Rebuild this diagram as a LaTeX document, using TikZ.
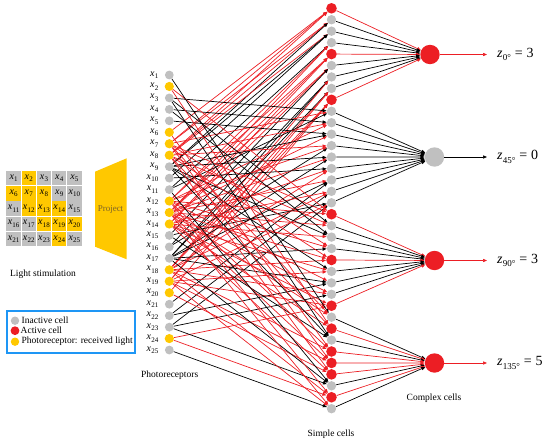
\documentclass[tikz,border=0pt]{standalone}
\usepackage{fontspec}
\setmainfont{Liberation Serif}
\usetikzlibrary{arrows.meta}
\definecolor{cred}{RGB}{236,30,36}
\definecolor{cgray}{RGB}{192,192,192}
\definecolor{cyel}{RGB}{255,200,0}
\definecolor{cblue}{RGB}{30,150,245}
\definecolor{ctext}{RGB}{125,100,40}
\newcommand{\xl}[1]{\textit{x}\kern0.2pt\raisebox{-0.55ex}{\fontsize{7}{7}\selectfont #1}}
\newcommand{\zl}[2]{\textit{z}\kern0.3pt\raisebox{-0.55ex}{\fontsize{9}{9}\selectfont #1°}\;=\;#2}
\tikzset{
  blk/.style={black,line width=0.7pt,-{Triangle[length=4pt,width=3.2pt]}},
  rd/.style={cred,line width=0.7pt,-{Triangle[length=4pt,width=3.2pt]}},
  q1/.style=blk, q2/.style=rd, q3/.style=blk, q4/.style=blk, q5/.style=blk,
  q6/.style=rd, q7/.style=rd, q8/.style=rd, q9/.style=blk, q10/.style=blk,
  q11/.style=blk, q12/.style=rd, q13/.style=rd, q14/.style=rd, q15/.style=blk,
  q16/.style=blk, q17/.style=blk, q18/.style=rd, q19/.style=rd, q20/.style=rd,
  q21/.style=blk, q22/.style=blk, q23/.style=blk, q24/.style=rd, q25/.style=blk,
  prg/.style={circle,fill=cgray,inner sep=0,minimum size=8.8pt},
  pry/.style={circle,fill=cyel,inner sep=0,minimum size=9.2pt},
  sina/.style={circle,fill=cgray,inner sep=0,minimum size=9.4pt},
  sact/.style={circle,fill=cred,inner sep=0,minimum size=10.6pt},
  sinaL/.style=blk, sactL/.style=rd,
  cina/.style={circle,fill=cgray,inner sep=0,minimum size=19.4pt},
  cact/.style={circle,fill=cred,inner sep=0,minimum size=19.4pt},
  cell/.style={rectangle,inner sep=0,minimum size=14.4pt,font=\fontsize{10}{10}\selectfont},
  lbl/.style={font=\fontsize{9.5}{11}\selectfont,inner sep=0},
  zlab/.style={font=\fontsize{14}{14}\selectfont,inner sep=0,anchor=west},
}
\begin{document}
\begin{tikzpicture}[x=1pt,y=-1pt]
\useasboundingbox (0,0) rectangle (550,442);
% light stimulation grid
\foreach \i/\f in {1/cgray,2/cyel,3/cgray,4/cgray,5/cgray,6/cyel,7/cyel,8/cyel,9/cgray,10/cgray,11/cgray,12/cyel,13/cyel,14/cyel,15/cgray,16/cgray,17/cgray,18/cyel,19/cyel,20/cyel,21/cgray,22/cgray,23/cgray,24/cyel,25/cgray}{
  \pgfmathtruncatemacro\row{floor((\i-1)/5)}
  \pgfmathtruncatemacro\col{mod(\i-1,5)}
  \node[cell,fill=\f] (g\i) at ({13.6+15.2*\col},{178.2+15.2*\row}) {\xl{\i}};
}
\node[lbl] (light) at (43,274) {Light stimulation};
% project
\fill[cyel] (95,171.7) -- (126.7,158.3) -- (126.7,259.3) -- (95,246.7) -- cycle;
\node[lbl,text=ctext,font=\fontsize{9}{10}\selectfont] (proj) at (110.5,209.3) {Project};
% photoreceptors
\foreach \i/\st in {1/prg,2/pry,3/prg,4/prg,5/prg,6/pry,7/pry,8/pry,9/prg,10/prg,11/prg,12/pry,13/pry,14/pry,15/prg,16/prg,17/prg,18/pry,19/pry,20/pry,21/prg,22/prg,23/prg,24/pry,25/prg}{
  \node[\st] (p\i) at (169.3,{75+11.46*(\i-1)}) {};
  \node[anchor=east,inner sep=0,font=\fontsize{10}{10}\selectfont] (xlab\i) at (158.5,{75+11.46*(\i-1)}) {\xl{\i}};
}
\node[lbl] (photo) at (169.7,375.7) {Photoreceptors};
% complex cells
\node[cact] (c0) at (430,54.5) {};
\node[cina] (c1) at (434.5,157) {};
\node[cact] (c2) at (434.5,260.5) {};
\node[cact] (c3) at (434.5,363) {};
% simple cells
\foreach \k/\st in {0/sact,1/sina,2/sina,3/sina,4/sact,5/sina,6/sina,7/sina,8/sact,9/sina,10/sina,11/sina,12/sina,13/sina,14/sina,15/sina,16/sina,17/sina,18/sact,19/sina,20/sina,21/sina,22/sact,23/sina,24/sina,25/sina,26/sact,27/sina,28/sact,29/sina,30/sact,31/sact,32/sact,33/sina,34/sact,35/sina}{
  \node[\st] (s\k) at (331.5,{8.3+11.44*\k}) {};
  \pgfmathtruncatemacro\g{floor(\k/9)}
  \draw[\st L] (s\k) -- (c\g);
}
\node[lbl] (simple) at (331,434) {Simple cells};
\node[lbl] (complex) at (434,398) {Complex cells};
% photoreceptor -> simple connections
\foreach \g/\da/\db in {0/-1/1,1/4/-4,2/-5/5,3/-6/6}{
  \foreach \r in {2,3,4}{
    \foreach \c in {2,3,4}{
      \pgfmathtruncatemacro\k{9*\g+3*(\r-2)+\c-2}
      \pgfmathtruncatemacro\p{5*(\r-1)+\c}
      \pgfmathtruncatemacro\qa{\p+\da}
      \pgfmathtruncatemacro\qb{\p+\db}
      \draw[q\qa] (p\qa) -- (s\k);
      \draw[q\p] (p\p) -- (s\k);
      \draw[q\qb] (p\qb) -- (s\k);
    }
  }
}
% outputs
\coordinate (o0) at (487,54.5);
\coordinate (o1) at (487,157);
\coordinate (o2) at (487,260.5);
\coordinate (o3) at (487,363);
\draw[rd] (c0) -- (o0);
\draw[blk] (c1) -- (o1);
\draw[rd] (c2) -- (o2);
\draw[rd] (c3) -- (o3);
\node[zlab] (z0) at (497,54.5) {\zl{0}{3}};
\node[zlab] (z1) at (497,157) {\zl{45}{0}};
\node[zlab] (z2) at (497,260.5) {\zl{90}{3}};
\node[zlab] (z3) at (497,363) {\zl{135}{5}};
% legend
\draw[cblue,line width=1.1pt] (7,311) rectangle (135,353);
\node[circle,fill=cgray,inner sep=0,minimum size=8.4pt] (lg1) at (15,320.7) {};
\node[circle,fill=cred,inner sep=0,minimum size=8.8pt] (lg2) at (15,330.7) {};
\node[circle,fill=cyel,inner sep=0,minimum size=8.4pt] (lg3) at (15,341.7) {};
\node[lbl,anchor=west] (lt1) at (21.5,320.7) {Inactive cell};
\node[lbl,anchor=west] (lt2) at (20.5,330.7) {Active cell};
\node[lbl,anchor=west] (lt3) at (21.5,341.7) {Photoreceptor: received light};
\end{tikzpicture}
\end{document}
